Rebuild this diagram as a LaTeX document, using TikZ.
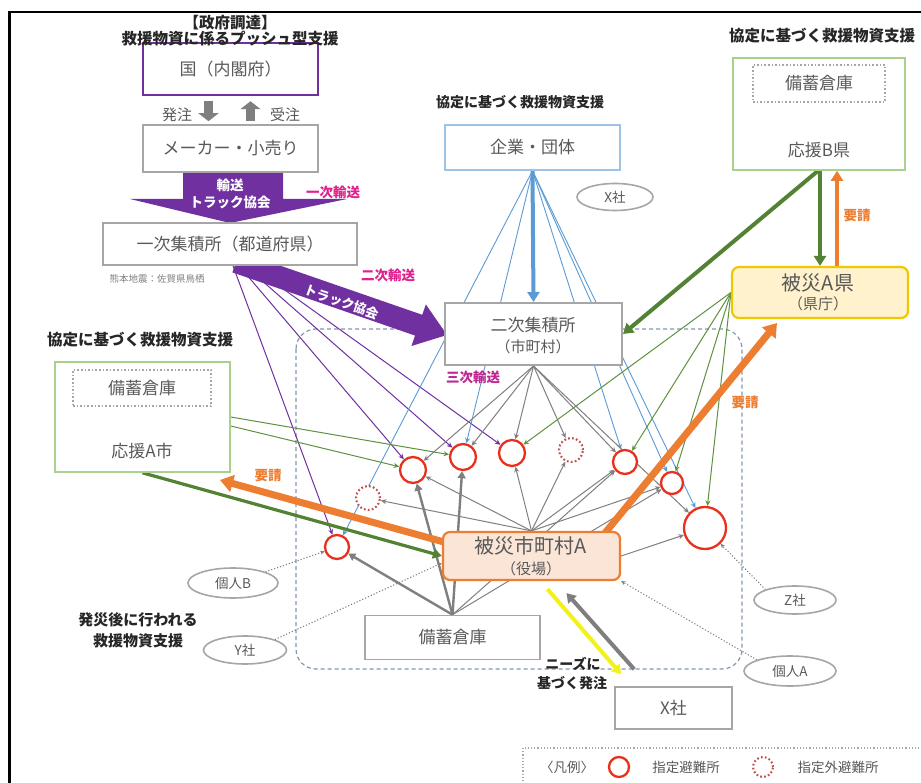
\documentclass[tikz,border=0pt]{standalone}
\usepackage{fontspec}
\setmainfont{Noto Sans CJK JP}
\usetikzlibrary{arrows.meta,shapes.geometric,calc}
\pgfdeclarelayer{bg}
\pgfsetlayers{bg,main}
\definecolor{cPurple}{HTML}{7030A0}
\definecolor{cMag}{HTML}{E0208C}
\definecolor{cOrange}{HTML}{ED7D31}
\definecolor{cGreen}{HTML}{548235}
\definecolor{cGreenT}{HTML}{5E9140}
\definecolor{cGreenBox}{HTML}{A9D18E}
\definecolor{cBlue}{HTML}{5B9BD5}
\definecolor{cBlueBox}{HTML}{9DC3E6}
\definecolor{cGrayLine}{HTML}{7F7F7F}
\definecolor{cGrayBox}{HTML}{A6A6A6}
\definecolor{cText}{HTML}{595959}
\definecolor{cTitle}{HTML}{262626}
\definecolor{cRed}{HTML}{E8301C}
\definecolor{cRedD}{HTML}{C0504D}
\definecolor{cDash}{HTML}{8497B0}
\definecolor{cYelBox}{HTML}{FFF2CC}
\definecolor{cYelLine}{HTML}{EEC900}
\definecolor{cOrFill}{HTML}{FBE5D6}
\definecolor{cYellow}{HTML}{F2F21A}
\newcommand\myXL{\fontsize{20}{22}\selectfont}
\newcommand\myL{\fontsize{17}{19}\selectfont}
\newcommand\myM{\fontsize{15}{17}\selectfont}
\newcommand\myT{\fontsize{15.5}{17}\selectfont}
\newcommand\myS{\fontsize{13.5}{15}\selectfont}
\newcommand\myXS{\fontsize{9.5}{11}\selectfont}
\begin{document}
\begin{tikzpicture}[x=1pt,y=-1pt,
  box/.style={draw=cGrayBox, line width=1.6pt, fill=white, text=cText, inner sep=0pt, font=\myL},
  shelter/.style={circle, draw=cRed, line width=2.3pt, fill=white, inner sep=0pt},
  shelterx/.style={circle, draw=cRedD, line width=2.1pt, dash pattern=on 1.7pt off 2.3pt, fill=white, inner sep=0pt},
  oval/.style={ellipse, draw=cGrayBox, line width=1.6pt, fill=white, text=cText, inner sep=0pt, font=\myS},
  myarr/.style={-{Stealth[length=5.5pt,width=5pt]}},
  pline/.style={cPurple, line width=1pt, myarr},
  bline/.style={cBlue, line width=0.9pt, myarr},
  gline/.style={cGreenT, line width=1pt, myarr},
  kline/.style={cGrayLine, line width=1pt, myarr},
  kthick/.style={cGrayLine, line width=2.4pt, -{Triangle[length=7pt,width=8pt]}},
  dline/.style={cGrayLine, line width=1.1pt, dotted, -{Stealth[length=4.5pt,width=4pt]}},
  fatarrow/.style={line width=4pt, -{Triangle[length=10pt,width=12pt]}},
  hugearrow/.style={line width=7pt, -{Triangle[length=13pt,width=17pt]}},
  blockarrow/.style={cGrayLine, line width=9pt, -{Triangle[length=8pt,width=20pt]}},
  ttl/.style={font=\myT\bfseries, text=cTitle, inner sep=0pt},
  mag/.style={font=\myS\bfseries, text=cMag, inner sep=0pt},
  req/.style={font=\myS\bfseries, text=cOrange, inner sep=0pt},
  plain/.style={text=cText, inner sep=0pt}]
\useasboundingbox (0,0) rectangle (921,783);
\draw[line width=2.6pt] (9.5,783) -- (9.5,12) -- (921,12);

% ---------- nodes ----------
\node[box, draw=cPurple, line width=2.5pt, minimum width=175pt, minimum height=52pt] (kuni) at (230.5,69) {国（内閣府）};
\node[box, minimum width=175pt, minimum height=47pt] (maker) at (230.5,148.5) {メーカー・小売り};
\node[box, minimum width=254pt, minimum height=42pt] (ichiji) at (230,244) {一次集積所（都道府県）};
\node[box, draw=cBlueBox, minimum width=175pt, minimum height=45pt] (kigyo) at (532.5,147.5) {企業・団体};
\node[box, line width=2pt, minimum width=177pt, minimum height=62pt] (niji) at (533.5,334) {};
\node[plain, font=\myL] (nijiA) at (533,325) {二次集積所};
\node[plain, font=\myM] (nijiB) at (533,347) {（市町村）};
\node[box, draw=cYelLine, fill=cYelBox, rounded corners=7pt, line width=2.2pt, minimum width=176pt, minimum height=51pt] (hisaiken) at (820,292.5) {};
\node[plain, font=\myXL] (kenA) at (818,283) {被災A県};
\node[plain, font=\myM] (kenB) at (818,304) {（県庁）};
\node[box, draw=cGreenBox, minimum width=172pt, minimum height=112pt] (bgreen) at (819,114) {};
\node[box, dotted, line width=1.5pt, minimum width=132pt, minimum height=37pt] (bstock) at (819,83.5) {備蓄倉庫};
\node[plain, font=\myL] (ouenB) at (819,150) {応援B県};
\node[box, draw=cGreenBox, minimum width=175pt, minimum height=110pt] (agreen) at (142.5,417) {};
\node[box, dotted, line width=1.5pt, minimum width=138pt, minimum height=36pt] (astock) at (142,388) {備蓄倉庫};
\node[plain, font=\myL] (ouenA) at (142,451) {応援A市};
\node[box, draw=cOrange, fill=cOrFill, rounded corners=7pt, line width=2.2pt, minimum width=177pt, minimum height=48pt] (hisaishi) at (531.5,556) {};
\node[plain, font=\myXL] (shiA) at (531,546) {被災市町村A};
\node[plain, font=\myM] (shiB) at (531,569) {（役場）};
\node[box, minimum width=175pt, minimum height=44pt] (bichiku) at (452.5,637.5) {備蓄倉庫};
\node[box, minimum width=117pt, minimum height=42pt] (xsha) at (673.5,708) {X社};

\node[shelter, minimum size=24pt] (S1) at (337,547) {};
\node[shelterx, minimum size=24pt] (S2) at (368,498) {};
\node[shelter, minimum size=26pt] (S3) at (413,470) {};
\node[shelter, minimum size=26pt] (S4) at (463,457) {};
\node[shelter, minimum size=26pt] (S5) at (512,453) {};
\node[shelterx, minimum size=24pt] (S6) at (571,450) {};
\node[shelter, minimum size=24pt] (S7) at (625,462) {};
\node[shelter, minimum size=22pt] (S8) at (672,483) {};
\node[shelter, minimum size=42pt] (S9) at (705,528) {};

\node[oval, minimum width=76pt, minimum height=27pt] (xoval) at (615,197) {X社};
\node[oval, minimum width=90pt, minimum height=30pt] (kojinB) at (233,583) {個人B};
\node[oval, minimum width=83pt, minimum height=28pt] (ysha) at (245,650) {Y社};
\node[oval, minimum width=82pt, minimum height=28pt] (zsha) at (795,600) {Z社};
\node[oval, minimum width=92pt, minimum height=30pt] (kojinA) at (790,671) {個人A};

\coordinate (reqA) at (220,480);
\coordinate (reqB) at (777,323);

% ---------- background: region and connectors ----------
\begin{pgfonlayer}{bg}
\fill[white] (0,0) rectangle (921,783);
\draw[cDash, line width=1.2pt, dash pattern=on 4pt off 3pt, rounded corners=20pt] (296,329) rectangle (742,669);
% purple thin
\draw[pline] ($(ichiji.south)+(3,0)$) -- (S1);
\draw[pline] ($(ichiji.south)+(9,0)$) -- (S3);
\draw[pline] ($(ichiji.south)+(15,0)$) -- (S4);
\draw[pline] ($(ichiji.south)+(21,0)$) -- (S5);
% blue thin
\draw[bline] (kigyo.south) -- (S1);
\draw[bline] (kigyo.south) -- (S4);
\draw[bline] (kigyo.south) -- (S7);
\draw[bline] (kigyo.south) -- (S8);
\draw[bline] (kigyo.south) -- (S9);
% green thin
\draw[gline] (agreen.east) -- (S4);
\draw[gline] ($(agreen.east)+(0,9)$) -- (S3);
\draw[gline] (hisaiken.west) -- (S5);
\draw[gline] (hisaiken.west) -- (S7);
\draw[gline] (hisaiken.west) -- (S8);
\draw[gline] (hisaiken.west) -- (S9);
% gray thin
\foreach \s in {S3,S4,S5,S6,S7,S9} \draw[kline] (niji.south) -- (\s);
\foreach \s in {S2,S3,S5,S6,S7,S8} \draw[kline] (hisaishi.north) -- (\s);
\draw[kline] (hisaishi.east) -- (S9);
\draw[kline] (bichiku.north) -- (S7);
\draw[kline] (bichiku.north) -- (S8);
% gray thick
\draw[kthick] (bichiku.north) -- (S1);
\draw[kthick] (bichiku.north) -- (S3);
\draw[kthick] (bichiku.north) -- (S4);
% purple big arrows
\fill[cPurple] (183,173) -- (283,173) -- (283,199) -- (347,199) -- (230,223) -- (130,199) -- (183,199) -- cycle;
\fill[cPurple] (239.6,251.6) -- (422.25,314.79) -- (425.84,304.4) -- (447,335) -- (411.46,345.98) -- (415.05,335.59) -- (232.4,272.4) -- cycle;
% thick colored
\draw[cBlue, fatarrow] (kigyo.south) -- (niji.north);
\draw[cGreen, fatarrow] ($(bgreen.south)+(1,0)$) -- ($(hisaiken.north)+(0,0)$);
\draw[cOrange, fatarrow] ($(hisaiken.north)+(17,0)$) -- ($(bgreen.south)+(18,0)$);
\draw[cGreen, fatarrow] ($(bgreen.south)+(-1,0)$) -- (niji.east);
\draw[cGreen, line width=3.2pt, -{Triangle[length=9pt,width=10pt]}] (agreen.south) -- (hisaishi.west);
\draw[cOrange, hugearrow] ($(hisaishi.west)+(2,-14)$) -- (reqA);
\draw[cOrange, hugearrow] ($(hisaishi.north east)+(-16,2)$) -- (reqB);
\draw[cYellow, line width=4pt, -{Triangle[length=9pt,width=11pt]}] ($(hisaishi.south)+(16,8)$) -- ($(xsha.north west)+(7,-12)$);
\draw[cGrayLine, line width=4pt, -{Triangle[length=9pt,width=11pt]}] ($(xsha.north west)+(20,-17)$) -- ($(hisaishi.south)+(35,12)$);
% dotted
\draw[dline] (kojinB.north east) -- (S1);
\draw[dline] (ysha.north east) -- ($(hisaishi.west)+(0,7)$);
\draw[dline] (zsha.north west) -- (S9);
\draw[dline] (kojinA.north west) -- (hisaishi.south east);
% block arrows
\draw[blockarrow] ($(kuni.south)+(-22,5)$) -- ($(maker.north)+(-22,-3)$);
\draw[blockarrow] ($(maker.north)+(20,-3)$) -- ($(kuni.south)+(20,5)$);
\draw[blockarrow] ($(bstock.south)+(0,6)$) -- ($(bstock.south)+(0,26)$);
\draw[blockarrow] ($(astock.south)+(0,6)$) -- ($(astock.south)+(0,26)$);
\end{pgfonlayer}

% ---------- labels ----------
\node[ttl] (t1) at (230,23) {【政府調達】};
\node[ttl] (t2) at (230,39) {救援物資に係るプッシュ型支援};
\node[ttl, font=\fontsize{14}{16}\selectfont\bfseries] (t3) at (520,102) {協定に基づく救援物資支援};
\node[ttl] (t4) at (822,36) {協定に基づく救援物資支援};
\node[ttl] (t5) at (140,340) {協定に基づく救援物資支援};
\node[plain, font=\myM] (hacchu) at (177,115) {発注};
\node[plain, font=\myM] (juchu) at (285,115) {受注};
\node[font=\myS\bfseries, text=white, inner sep=0pt] (yuso1) at (230,185) {輸送};
\node[font=\myS\bfseries, text=white, inner sep=0pt] (yuso2) at (230,202) {トラック協会};
\node[mag] (ichijiY) at (333,192) {一次輸送};
\node[plain, font=\myXS, text=gray] (kuma) at (157,279) {熊本地震：佐賀県鳥栖};
\node[mag] (nijiY) at (388,275) {二次輸送};
\node[font=\fontsize{13}{15}\selectfont\bfseries, text=white, inner sep=0pt, rotate=-19] (truck2) at (342,302) {トラック協会};
\node[mag, text=cMag!70!cPurple] (sanjiY) at (473,377) {三次輸送};
\node[req] (reqT1) at (857,215) {要請};
\node[req] (reqT2) at (745,402) {要請};
\node[req] (reqT3) at (268,475) {要請};
\node[ttl, font=\fontsize{15}{17}\selectfont\bfseries] (hassai1) at (138,620) {発災後に行われる};
\node[ttl, font=\fontsize{15}{17}\selectfont\bfseries] (hassai2) at (138,641) {救援物資支援};
\node[ttl, font=\fontsize{14}{16}\selectfont\bfseries] (needs1) at (573,664) {ニーズに};
\node[ttl, font=\fontsize{14}{16}\selectfont\bfseries] (needs2) at (572,683) {基づく発注};

% ---------- legend ----------
\draw[cGrayBox, dotted, line width=1.2pt] (523,748) rectangle (930,800);
\node[plain, font=\myS] (legT) at (567,767) {〈凡例〉};
\node[shelter, minimum size=20pt] (legS) at (619,767) {};
\node[plain, font=\myS] (legT2) at (686,767) {指定避難所};
\node[shelterx, minimum size=20pt] (legX) at (763,767) {};
\node[plain, font=\myS] (legT3) at (838,767) {指定外避難所};
\end{tikzpicture}
\end{document}
